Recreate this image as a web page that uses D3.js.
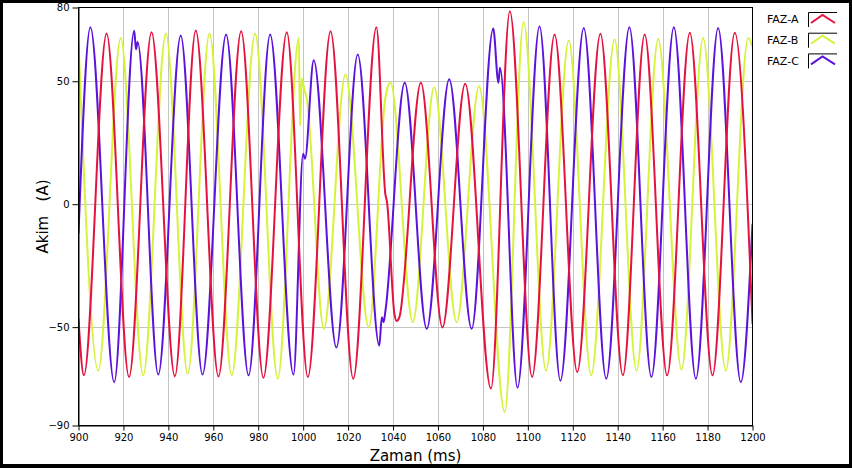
<!DOCTYPE html>
<html>
<head>
<meta charset="utf-8">
<script src="https://cdn.jsdelivr.net/npm/d3@7"></script>
<style>
	body { margin: 0; background: #000; }
	svg { display: block; }
	text { font-family: "DejaVu Sans", Verdana, sans-serif; }
</style>
</head>
<body>
<svg id="chart"></svg>
<script>
// zaman (ms), akim (A) -- tepe / cukur noktalari
var fazA = [
	[900, -46.6], [902.4, -69.6], [912.5, 69.4], [922.5, -70.3], [932.5, 69.9],
	[942.9, -70], [952.2, 70.6], [962.3, -70.1], [972.4, 70.3], [982.3, -70.6],
	[992.7, 69.9], [1002.1, -70.3], [1012.2, 70.3], [1022.3, -71], [1032.6, 72],
	[1036.6, 4], [1037.3, 1], [1040.6, -44.5], [1041.6, -47.5], [1042.8, -46],
	[1052.4, 49.4], [1062, -50.1], [1072.1, 49], [1083.6, -75], [1092, 78.5],
	[1101.9, -70.3], [1111.9, 69], [1122, -68.3], [1132.3, 69.3], [1142.3, -69.6],
	[1152, 69], [1162, -69.6], [1172.1, 69.7], [1182.2, -69.6], [1192.1, 69.7],
	[1200, -48.7]
]
var fazB = [
	[900, 66], [908.8, -67.7], [918.8, 67.6], [928.8, -69.6], [938.9, 69.4],
	[948.6, -69], [958.3, 69.4], [968.2, -69.6], [978.6, 69.4], [988.7, -71],
	[998.1, 67.6], [998.6, 32], [999.4, 51], [1000.4, 47], [1001.6, 43],
	[1009.2, -50.7], [1018.8, 52.8], [1029.2, -50.1], [1036.6, 43.3], [1037.4, 47],
	[1038.9, 49.4], [1048.8, -48], [1058.3, 47.6], [1068.3, -48], [1078.3, 48],
	[1089.7, -84.5], [1098.1, 74.1], [1108.1, -67.7], [1118.2, 66.6], [1128.2, -69.6],
	[1138.6, 67], [1148.4, -67.7], [1158, 67.2], [1168.4, -67.3], [1178, 67.6],
	[1188.1, -67.7], [1198.1, 67.6], [1200, 64]
]
var fazC = [
	[900, -12], [905.3, 72], [915.9, -72.4], [924.8, 70.5], [925.6, 63],
	[926.3, 66], [935.5, -69.3], [945.5, 68.6], [955.2, -69.3], [965.7, 69],
	[975.7, -69.6], [985.3, 69], [995.7, -69.3], [1000.0, 20.5], [1000.8, 18.5],
	[1004.7, 58.5], [1014.8, -58.3], [1024.3, 60.9], [1033.9, -57.5], [1035.0, -46],
	[1035.8, -48], [1036.6, -43.5], [1045.2, 49.4], [1055, -50.7], [1065, 50.8],
	[1075, -50.7], [1084.6, 71.5], [1086.9, 49.4], [1087.6, 55.5], [1095.4, -74.6],
	[1105.2, 72.4], [1114.5, -71.8], [1124.9, 71.7], [1134.9, -71], [1145.2, 72],
	[1155, -70.3], [1165, 72], [1174.8, -71], [1184.7, 71.7], [1194.8, -72.4],
	[1200, -8]
]

var seriesNames = ['FAZ-A', 'FAZ-B', 'FAZ-C']
var xTicks = [900, 920, 940, 960, 980, 1000, 1020, 1040, 1060, 1080, 1100, 1120, 1140, 1160, 1180, 1200]
var yTicks = [-90, -50, 0, 50, 80]

var dimensions = {
	width: 852,
	height: 468,
	plot: { left: 78.5, right: 752.5, top: 7.5, bottom: 425.5 }
}
var colors = { 'FAZ-A': '#e4123e', 'FAZ-B': '#d6f23a', 'FAZ-C': '#5a12dc' }

var svg = d3.select("#chart")
	.attr("width", dimensions.width)
	.attr("height", dimensions.height)

// beyaz zemin, dis siyah cerceve
svg.append("rect")
	.attr("x", 0).attr("y", 0)
	.attr("width", dimensions.width).attr("height", dimensions.height)
	.attr("fill", "#000")
svg.append("rect")
	.attr("x", 3).attr("y", 3)
	.attr("width", dimensions.width - 6).attr("height", dimensions.height - 7)
	.attr("fill", "#fff")

var xScale = d3.scaleLinear()
	.domain([900, 1200])
	.range([dimensions.plot.left, dimensions.plot.right])

var yScale = d3.scaleLinear()
	.domain([-90, 80])
	.range([dimensions.plot.bottom, dimensions.plot.top])

// grid
svg.append("g")
	.selectAll("line")
	.data(xTicks.slice(1, -1))
	.enter()
	.append("line")
	.attr("x1", d => Math.round(xScale(d)) + 0.5)
	.attr("x2", d => Math.round(xScale(d)) + 0.5)
	.attr("y1", dimensions.plot.top)
	.attr("y2", dimensions.plot.bottom)
	.style("stroke", "#c4c4c4")
	.style("stroke-width", 1)

svg.append("g")
	.selectAll("line")
	.data(yTicks.slice(1, -1))
	.enter()
	.append("line")
	.attr("x1", dimensions.plot.left)
	.attr("x2", dimensions.plot.right)
	.attr("y1", d => Math.round(yScale(d)) + 0.5)
	.attr("y2", d => Math.round(yScale(d)) + 0.5)
	.style("stroke", "#c4c4c4")
	.style("stroke-width", 1)

svg.append("clipPath")
	.attr("id", "clip")
	.append("rect")
	.attr("x", dimensions.plot.left)
	.attr("y", dimensions.plot.top - 1)
	.attr("width", dimensions.plot.right - dimensions.plot.left)
	.attr("height", dimensions.plot.bottom - dimensions.plot.top + 1)

var line = d3.line()
	.x(d => xScale(d[0]))
	.y(d => yScale(d[1]))
	.curve(d3.curveMonotoneX)

var lines = svg.append("g").attr("clip-path", "url(#clip)")
var drawOrder = [['FAZ-B', fazB], ['FAZ-C', fazC], ['FAZ-A', fazA]]
drawOrder.forEach(function (s) {
	lines.append("path")
		.datum(s[1])
		.attr("d", line)
		.style("fill", "none")
		.style("stroke", colors[s[0]])
		.style("stroke-width", 2)
		.style("stroke-linejoin", "round")
})

// cerceve
svg.append("rect")
	.attr("x", dimensions.plot.left)
	.attr("y", dimensions.plot.top)
	.attr("width", dimensions.plot.right - dimensions.plot.left)
	.attr("height", dimensions.plot.bottom - dimensions.plot.top)
	.style("fill", "none")
	.style("stroke", "#000")
	.style("stroke-width", 1)

var xAxisgen = d3.axisBottom(xScale).tickValues(xTicks).tickFormat(d3.format("d"))
	.tickSize(5).tickPadding(3).tickSizeOuter(0)
var yAxisgen = d3.axisLeft(yScale).tickValues(yTicks).tickFormat(d3.format("d"))
	.tickSize(6).tickPadding(3).tickSizeOuter(0)

var xAxis = svg.append("g")
	.attr("transform", `translate(0,${dimensions.plot.bottom})`)
	.call(xAxisgen)
var yAxis = svg.append("g")
	.attr("transform", `translate(${dimensions.plot.left},0)`)
	.call(yAxisgen)

svg.selectAll(".tick text")
	.style("font-family", "'DejaVu Sans', sans-serif")
	.style("font-size", "10px")
	.attr("fill", "#000")
svg.selectAll(".tick line").attr("stroke", "#000")
svg.selectAll(".domain").attr("stroke", "#000")

svg.append("text")
	.attr("x", (dimensions.plot.left + dimensions.plot.right) / 2)
	.attr("y", 461)
	.attr("text-anchor", "middle")
	.style("font-size", "15px")
	.text("Zaman (ms)")

svg.append("text")
	.attr("transform", "translate(48," + ((dimensions.plot.top + dimensions.plot.bottom) / 2) + ") rotate(-90)")
	.attr("text-anchor", "middle")
	.attr("xml:space", "preserve")
	.style("white-space", "pre")
	.style("font-size", "15px")
	.text("Akim   (A)")

// lejant
var legend = svg.append('g')
	.attr('class', 'legend')
	.attr('transform', 'translate(0, 0)')

seriesNames.forEach(function (name, i) {
	var top = 12 + i * 20.7
	legend.append('text')
		.attr('x', 767)
		.attr('y', top + 11.3)
		.style('font-size', '11px')
		.text(name)
	legend.append('path')
		.attr('d', `M808.5,${top + 15}V${top + 0.5}H837`)
		.style('fill', 'none')
		.style('stroke', '#000')
		.style('stroke-width', 1)
	legend.append('path')
		.attr('d', `M811,${top + 11}L822.5,${top + 3}L835,${top + 11}`)
		.style('fill', 'none')
		.style('stroke', colors[name])
		.style('stroke-width', 2)
})
</script>
</body>
</html>
